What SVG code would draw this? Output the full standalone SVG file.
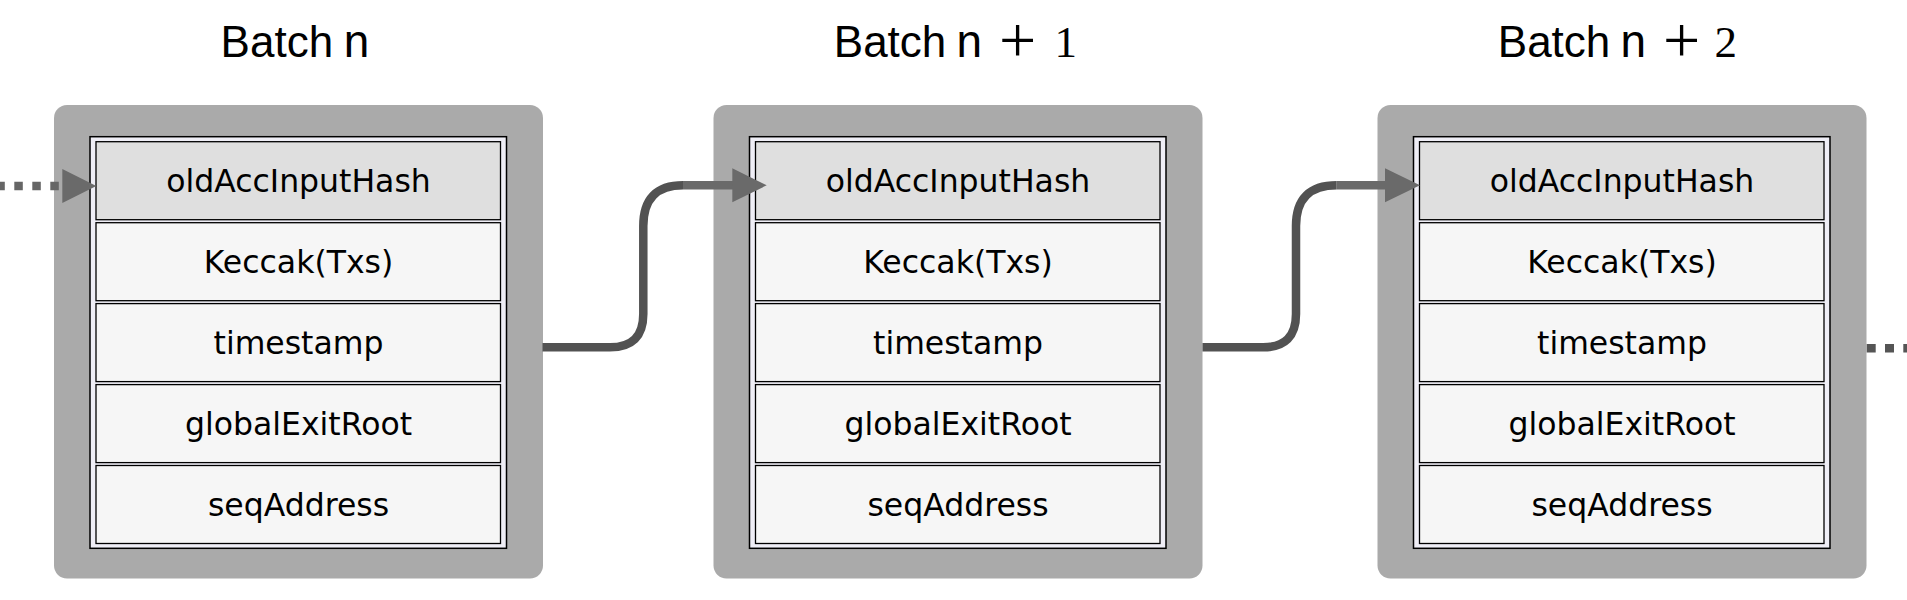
<svg xmlns="http://www.w3.org/2000/svg" width="1907" height="600" viewBox="0 0 1907 600">
  <style>
    .box { fill: #aaaaaa; }
    .frame { fill: #efeef6; stroke: #000; stroke-width: 1.5; }
    .cell { fill: #f6f6f6; stroke: #000; stroke-width: 1.3; }
    .cell.head { fill: #dfdfdf; }
    .field { font-family: "DejaVu Sans", "Liberation Sans", sans-serif; font-size: 31.5px; fill: #000; text-anchor: middle; }
    .title { fill: #000; font-family: "Liberation Sans", Arial, sans-serif; font-size: 8px; }
    .t-sans { font-family: "Liberation Sans", Arial, sans-serif; font-size: 44px; }
    .t-mono { font-family: "Liberation Mono", "Courier New", monospace; font-size: 46px; }
    .t-op { font-family: "Liberation Serif", "Times New Roman", serif; font-size: 66px; }
    .t-num { font-family: "Liberation Serif", "Times New Roman", serif; font-size: 45px; }
    .link { fill: none; stroke: #525252; stroke-width: 8.5; }
    .link-end { fill: none; stroke: #6a6a6a; stroke-width: 8.5; }
    .dots-in { fill: none; stroke: #666666; stroke-width: 8.5; stroke-dasharray: 8.5 9.5; }
    .dots-out { fill: none; stroke: #555555; stroke-width: 8.5; stroke-dasharray: 9 9.3; }
    .head-arrow { fill: #6a6a6a; }
  </style>

  <g id="batch-n" transform="translate(54,0)">
    <text class="title" y="57.3"><tspan class="t-sans" x="166.6">Batch</tspan> <tspan class="t-mono" x="288.8">n</tspan></text>
    <rect class="box" x="0" y="105" width="489" height="473.5" rx="13"/>
    <rect class="frame" x="36" y="136.7" width="416.5" height="411.6"/>
    <rect class="cell head" x="42" y="141.7" width="404.5" height="78"/>
    <rect class="cell" x="42" y="222.7" width="404.5" height="78"/>
    <rect class="cell" x="42" y="303.6" width="404.5" height="78"/>
    <rect class="cell" x="42" y="384.6" width="404.5" height="78"/>
    <rect class="cell" x="42" y="465.5" width="404.5" height="78"/>
    <text class="field" x="244.5" y="192.2">oldAccInputHash</text>
    <text class="field" x="244.5" y="273.2">Keccak(Txs)</text>
    <text class="field" x="244.5" y="354.1">timestamp</text>
    <text class="field" x="244.5" y="435.1">globalExitRoot</text>
    <text class="field" x="244.5" y="516">seqAddress</text>
  </g>

  <g id="batch-n1" transform="translate(713.5,0)">
    <text class="title" y="57.3"><tspan class="t-sans" x="120.3">Batch</tspan> <tspan class="t-mono" x="242">n</tspan> <tspan class="t-op" x="285.5" y="62">+</tspan> <tspan class="t-num" x="341" y="57.3">1</tspan></text>
    <rect class="box" x="0" y="105" width="489" height="473.5" rx="13"/>
    <rect class="frame" x="36" y="136.7" width="416.5" height="411.6"/>
    <rect class="cell head" x="42" y="141.7" width="404.5" height="78"/>
    <rect class="cell" x="42" y="222.7" width="404.5" height="78"/>
    <rect class="cell" x="42" y="303.6" width="404.5" height="78"/>
    <rect class="cell" x="42" y="384.6" width="404.5" height="78"/>
    <rect class="cell" x="42" y="465.5" width="404.5" height="78"/>
    <text class="field" x="244.5" y="192.2">oldAccInputHash</text>
    <text class="field" x="244.5" y="273.2">Keccak(Txs)</text>
    <text class="field" x="244.5" y="354.1">timestamp</text>
    <text class="field" x="244.5" y="435.1">globalExitRoot</text>
    <text class="field" x="244.5" y="516">seqAddress</text>
  </g>

  <g id="batch-n2" transform="translate(1377.5,0)">
    <text class="title" y="57.3"><tspan class="t-sans" x="120.3">Batch</tspan> <tspan class="t-mono" x="242">n</tspan> <tspan class="t-op" x="285.5" y="62">+</tspan> <tspan class="t-num" x="337" y="57.3">2</tspan></text>
    <rect class="box" x="0" y="105" width="489" height="473.5" rx="13"/>
    <rect class="frame" x="36" y="136.7" width="416.5" height="411.6"/>
    <rect class="cell head" x="42" y="141.7" width="404.5" height="78"/>
    <rect class="cell" x="42" y="222.7" width="404.5" height="78"/>
    <rect class="cell" x="42" y="303.6" width="404.5" height="78"/>
    <rect class="cell" x="42" y="384.6" width="404.5" height="78"/>
    <rect class="cell" x="42" y="465.5" width="404.5" height="78"/>
    <text class="field" x="244.5" y="192.2">oldAccInputHash</text>
    <text class="field" x="244.5" y="273.2">Keccak(Txs)</text>
    <text class="field" x="244.5" y="354.1">timestamp</text>
    <text class="field" x="244.5" y="435.1">globalExitRoot</text>
    <text class="field" x="244.5" y="516">seqAddress</text>
  </g>

  <g id="connectors">
    <path class="dots-in" d="M-3.7 186 H59.5"/>
    <polygon class="head-arrow" points="62.3,169 96.3,186 62.3,203"/>

    <path class="link" d="M542.5 347.3 H610 Q643.3 347.3 643.3 314 V226 Q643.3 185.3 683 185.3"/>
    <path class="link-end" d="M683 185.3 H733"/>
    <polygon class="head-arrow" points="732.3,168.3 766.7,185.3 732.3,202.3"/>

    <path class="link" d="M1202.5 347.3 H1263 Q1296 347.3 1296 314 V226 Q1296 185.3 1336.7 185.3"/>
    <path class="link-end" d="M1336.7 185.3 H1386"/>
    <polygon class="head-arrow" points="1385,168.3 1420,185.3 1385,202.3"/>

    <path class="dots-out" d="M1866.7 348.3 H1907"/>
  </g>
</svg>
